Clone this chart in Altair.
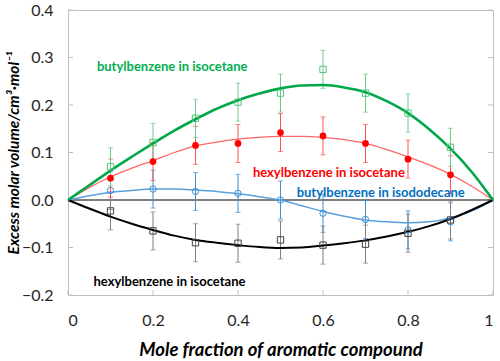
import altair as alt
import pandas as pd

# ---- data ----
x_pts = [0.1, 0.2, 0.3, 0.4, 0.5, 0.6, 0.7, 0.8, 0.9]
green_pts = [0.070, 0.121, 0.172, 0.206, 0.225, 0.275, 0.225, 0.183, 0.111]
red_pts = [0.046, 0.081, 0.115, 0.119, 0.142, 0.135, 0.119, 0.086, 0.053]
blue_pts = [0.020, 0.023, 0.018, 0.014, 0.000, -0.028, -0.041, -0.063, -0.046]
black_pts = [-0.023, -0.065, -0.090, -0.091, -0.084, -0.095, -0.093, -0.070, -0.042]
err = 0.04

x_curve = [0.0, 0.05, 0.1, 0.15, 0.2, 0.25, 0.3, 0.35, 0.4, 0.45, 0.5,
           0.55, 0.6, 0.65, 0.7, 0.75, 0.8, 0.85, 0.9, 0.95, 1.0]
green_curve = [0.0, 0.031, 0.062, 0.091, 0.119, 0.146, 0.170, 0.192, 0.210, 0.224, 0.235,
               0.241, 0.242, 0.237, 0.227, 0.208, 0.183, 0.149, 0.108, 0.059, 0.0]
red_curve = [0.0, 0.026, 0.049, 0.067, 0.083, 0.100, 0.114, 0.122, 0.128, 0.132, 0.134,
             0.134, 0.132, 0.127, 0.119, 0.106, 0.091, 0.074, 0.054, 0.029, 0.0]
blue_curve = [0.0, 0.009, 0.016, 0.020, 0.023, 0.023, 0.021, 0.018, 0.013, 0.007, 0.0,
              -0.012, -0.024, -0.034, -0.042, -0.046, -0.048, -0.046, -0.038, -0.023, 0.0]
black_curve = [0.0, -0.018, -0.035, -0.050, -0.063, -0.075, -0.084, -0.090, -0.095, -0.099, -0.101,
               -0.100, -0.096, -0.091, -0.085, -0.077, -0.067, -0.055, -0.040, -0.021, 0.0]

y_ticks = [-0.2, -0.1, 0.0, 0.1, 0.2, 0.3, 0.4]
x_ticks = [0, 0.2, 0.4, 0.6, 0.8, 1]

labels = ["butylbenzene in isocetane", "hexylbenzene in isocetane",
          "butylbenzene in isododecane", "hexylbenzene in isocetane"]
label_x = [0.068, 0.435, 0.538, 0.060]
label_y = [0.280, 0.057, 0.0155, -0.172]
label_colors = ["#00b050", "#ff0000", "#0070c0", "#000000"]

FONT = "Lato"
W, H = 425, 285

xs = alt.Scale(domain=[0, 1], nice=False)
ys = alt.Scale(domain=[-0.2, 0.4], nice=False)


def curve(vals, color, width):
    df = pd.DataFrame({"x": x_curve, "y": vals})
    return alt.Chart(df).mark_line(color=color, strokeWidth=width, interpolate="monotone").encode(
        x=alt.X("x:Q", scale=xs), y=alt.Y("y:Q", scale=ys))


def errbars(vals, color):
    df = pd.DataFrame({"x": x_pts, "y": vals})
    df["lo"] = df["y"] - err
    df["hi"] = df["y"] + err
    base = alt.Chart(df)
    r = base.mark_rule(color=color, strokeWidth=1).encode(
        x=alt.X("x:Q", scale=xs), y=alt.Y("lo:Q", scale=ys), y2="hi:Q")
    t1 = base.mark_tick(color=color, orient="horizontal", size=5, thickness=1).encode(
        x=alt.X("x:Q", scale=xs), y=alt.Y("lo:Q", scale=ys))
    t2 = base.mark_tick(color=color, orient="horizontal", size=5, thickness=1).encode(
        x=alt.X("x:Q", scale=xs), y=alt.Y("hi:Q", scale=ys))
    return r + t1 + t2


def points(vals, color, shape, filled, size):
    df = pd.DataFrame({"x": x_pts, "y": vals})
    return alt.Chart(df).mark_point(shape=shape, filled=filled, color=color, size=size,
                                    strokeWidth=1, opacity=1).encode(
        x=alt.X("x:Q", scale=xs), y=alt.Y("y:Q", scale=ys))


# axes layer (labels/titles only)
axes = alt.Chart(pd.DataFrame({"x": [0], "y": [0]})).mark_point(opacity=0).encode(
    x=alt.X("x:Q", scale=xs,
            axis=alt.Axis(values=x_ticks, format="~g", title="Mole fraction of aromatic compound",
                          ticks=False, domain=False, grid=False, labelPadding=17,
                          labelFontSize=16, labelFont=FONT, labelColor="#262626",
                          titleFont=FONT, titleFontSize=18.5, titleFontStyle="italic",
                          titleFontWeight="bold", titleColor="#000000", titlePadding=12)),
    y=alt.Y("y:Q", scale=ys,
            axis=alt.Axis(values=y_ticks, format=".1f",
                          title="Excess molar volume/cm³·mol⁻¹",
                          ticks=False, domain=False, grid=False, labelPadding=15,
                          labelFontSize=16, labelFont=FONT, labelColor="#262626",
                          titleFont=FONT, titleFontSize=15.5, titleFontStyle="italic",
                          titleFontWeight="bold", titleColor="#000000", titlePadding=0)),
)

ytick_df = pd.DataFrame({"y": y_ticks})
xtick_df = pd.DataFrame({"x": x_ticks})
tick_color = "#bfbfbf"
ytl = alt.Chart(ytick_df).mark_rule(color=tick_color).encode(
    y=alt.Y("y:Q", scale=ys), x=alt.value(0), x2=alt.value(5))
ytr = alt.Chart(ytick_df).mark_rule(color=tick_color).encode(
    y=alt.Y("y:Q", scale=ys), x=alt.value(W - 5), x2=alt.value(W))
xtb = alt.Chart(xtick_df).mark_rule(color=tick_color).encode(
    x=alt.X("x:Q", scale=xs), y=alt.value(H - 5), y2=alt.value(H))

zero = alt.Chart(pd.DataFrame({"y": [0.0]})).mark_rule(color="#000000", strokeWidth=1).encode(
    y=alt.Y("y:Q", scale=ys))

lab_df = pd.DataFrame({"t": labels, "x": label_x, "y": label_y, "c": label_colors})
texts = alt.Chart(lab_df).mark_text(align="left", baseline="middle", font=FONT,
                                    fontSize=13, fontWeight="bold").encode(
    x=alt.X("x:Q", scale=xs), y=alt.Y("y:Q", scale=ys), text="t:N",
    color=alt.Color("c:N", scale=None))

chart = alt.layer(
    axes, ytl, ytr, xtb, zero,
    errbars(blue_pts, "#3d8fd6"),
    errbars(black_pts, "#7f7f7f"),
    errbars(red_pts, "#ff5050"),
    errbars(green_pts, "#66cc88"),
    curve(blue_curve, "#5aa0dc", 1.5),
    curve(black_curve, "#000000", 2),
    curve(red_curve, "#ff6666", 1.3),
    curve(green_curve, "#00a84a", 2.6),
    points(blue_pts, "#3d8fd6", "circle", False, 40),
    points(black_pts, "#404040", "square", False, 40),
    points(red_pts, "#ff0000", "circle", True, 45),
    points(green_pts, "#55c47a", "square", False, 40),
    texts,
).properties(
    width=W, height=H,
    padding={"left": 68, "top": 10, "right": 7, "bottom": 66},
    autosize=alt.AutoSizeParams(type="none"),
).configure_view(stroke="#bfbfbf", strokeWidth=1)

chart.save("out.html", embed_options={"renderer": "svg", "actions": False})
